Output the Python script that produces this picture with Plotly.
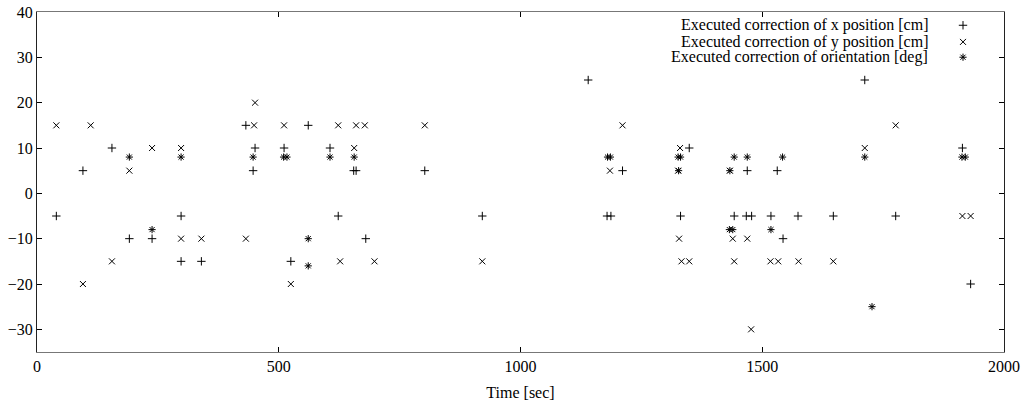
import plotly.graph_objects as go

# Executed correction of x position [cm]
x_time = [40, 95, 155, 191, 238, 298, 298, 340, 432, 451, 447, 511, 525, 561, 606, 623,
          655, 660, 680, 802, 921, 1140, 1179, 1187, 1211, 1331, 1349, 1442, 1467, 1478,
          1469, 1518, 1531, 1543, 1574, 1647, 1712, 1776, 1914, 1931]
x_val = [-5, 5, 10, -10, -10, -5, -15, -15, 15, 10, 5, 10, -15, 15, 10, -5,
         5, 5, -10, 5, -5, 25, -5, -5, 5, -5, 10, -5, -5, -5,
         5, -5, 5, -10, -5, -5, 25, -5, 10, -20]

# Executed correction of y position [cm]
y_time = [40, 95, 111, 155, 191, 238, 298, 298, 340, 432, 449, 451, 511, 525, 623, 627,
          656, 660, 678, 698, 802, 921, 1185, 1211, 1330, 1326, 1328, 1333, 1349, 1433,
          1439, 1442, 1469, 1477, 1517, 1533, 1575, 1647, 1712, 1776, 1914, 1931]
y_val = [15, -20, 15, -15, 5, 10, 10, -10, -10, -10, 15, 20, 15, -20, 15, -15,
         10, 15, 15, -15, 15, -15, 5, 15, 10, 5, -10, -15, -15, 5,
         -10, -15, -10, -30, -15, -15, -15, -15, 10, 15, -5, -5]

# Executed correction of orientation [deg]
o_time = [191, 238, 298, 447, 510, 517, 561, 561, 606, 656, 1180, 1186, 1326, 1331, 1327,
          1433, 1432, 1439, 1442, 1469, 1518, 1542, 1712, 1727, 1913, 1920]
o_val = [8, -8, 8, 8, 8, 8, -10, -16, 8, 8, 8, 8, 8, 8, 5,
         5, -8, -8, 8, 8, -8, 8, 8, -25, 8, 8]

labels = ["Executed correction of x position [cm]",
          "Executed correction of y position [cm]",
          "Executed correction of orientation [deg]"]
symbols = ["cross-thin", "x-thin", "asterisk"]

FONT = "Liberation Serif"
FS = 16
MS = 6
fig = go.Figure()
series = [(x_time, x_val), (y_time, y_val), (o_time, o_val)]
for (t, v), sym, name in zip(series, symbols, labels):
    fig.add_trace(go.Scatter(
        x=t, y=v, mode="markers", name=name, showlegend=False,
        marker=dict(symbol=sym, size=MS, color="black",
                    line=dict(color="black", width=1)),
    ))

# custom legend (text left of symbol, like gnuplot)
key_x = 0.9576
key_y = [0.961, 0.912, 0.867]
for lab, sym, ky in zip(labels, symbols, key_y):
    fig.add_trace(go.Scatter(
        x=[key_x], y=[ky], xaxis="x2", yaxis="y2", mode="markers",
        showlegend=False, hoverinfo="skip",
        marker=dict(symbol=sym, size=MS, color="black",
                    line=dict(color="black", width=1)),
    ))
    fig.add_annotation(x=0.9235, y=ky, xref="paper", yref="paper", text=lab,
                       showarrow=False, xanchor="right", yanchor="middle",
                       font=dict(family=FONT, size=FS, color="black"))

axis_common = dict(showgrid=False, zeroline=False, ticks="inside", ticklen=5,
                   tickcolor="black", mirror="ticks", showline=True, automargin=False,
                   tickfont=dict(family=FONT, size=FS, color="black"))
fig.update_layout(
    width=1023, height=406,
    margin=dict(l=37, r=19, t=12, b=54),
    paper_bgcolor="white", plot_bgcolor="white",
    xaxis=dict(range=[0, 2000], tickvals=[0, 500, 1000, 1500, 2000],
               linecolor="#777", linewidth=1,
               title=dict(text="Time [sec]", font=dict(family=FONT, size=16, color="black"),
                          standoff=12),
               **axis_common),
    yaxis=dict(range=[-35, 40], tickvals=[-30, -20, -10, 0, 10, 20, 30, 40],
               linecolor="#222", linewidth=1, **axis_common),
    xaxis2=dict(range=[0, 1], overlaying="x", visible=False),
    yaxis2=dict(range=[0, 1], overlaying="y", visible=False),
    font=dict(family=FONT, color="black"),
)

fig.write_html("out.html")
